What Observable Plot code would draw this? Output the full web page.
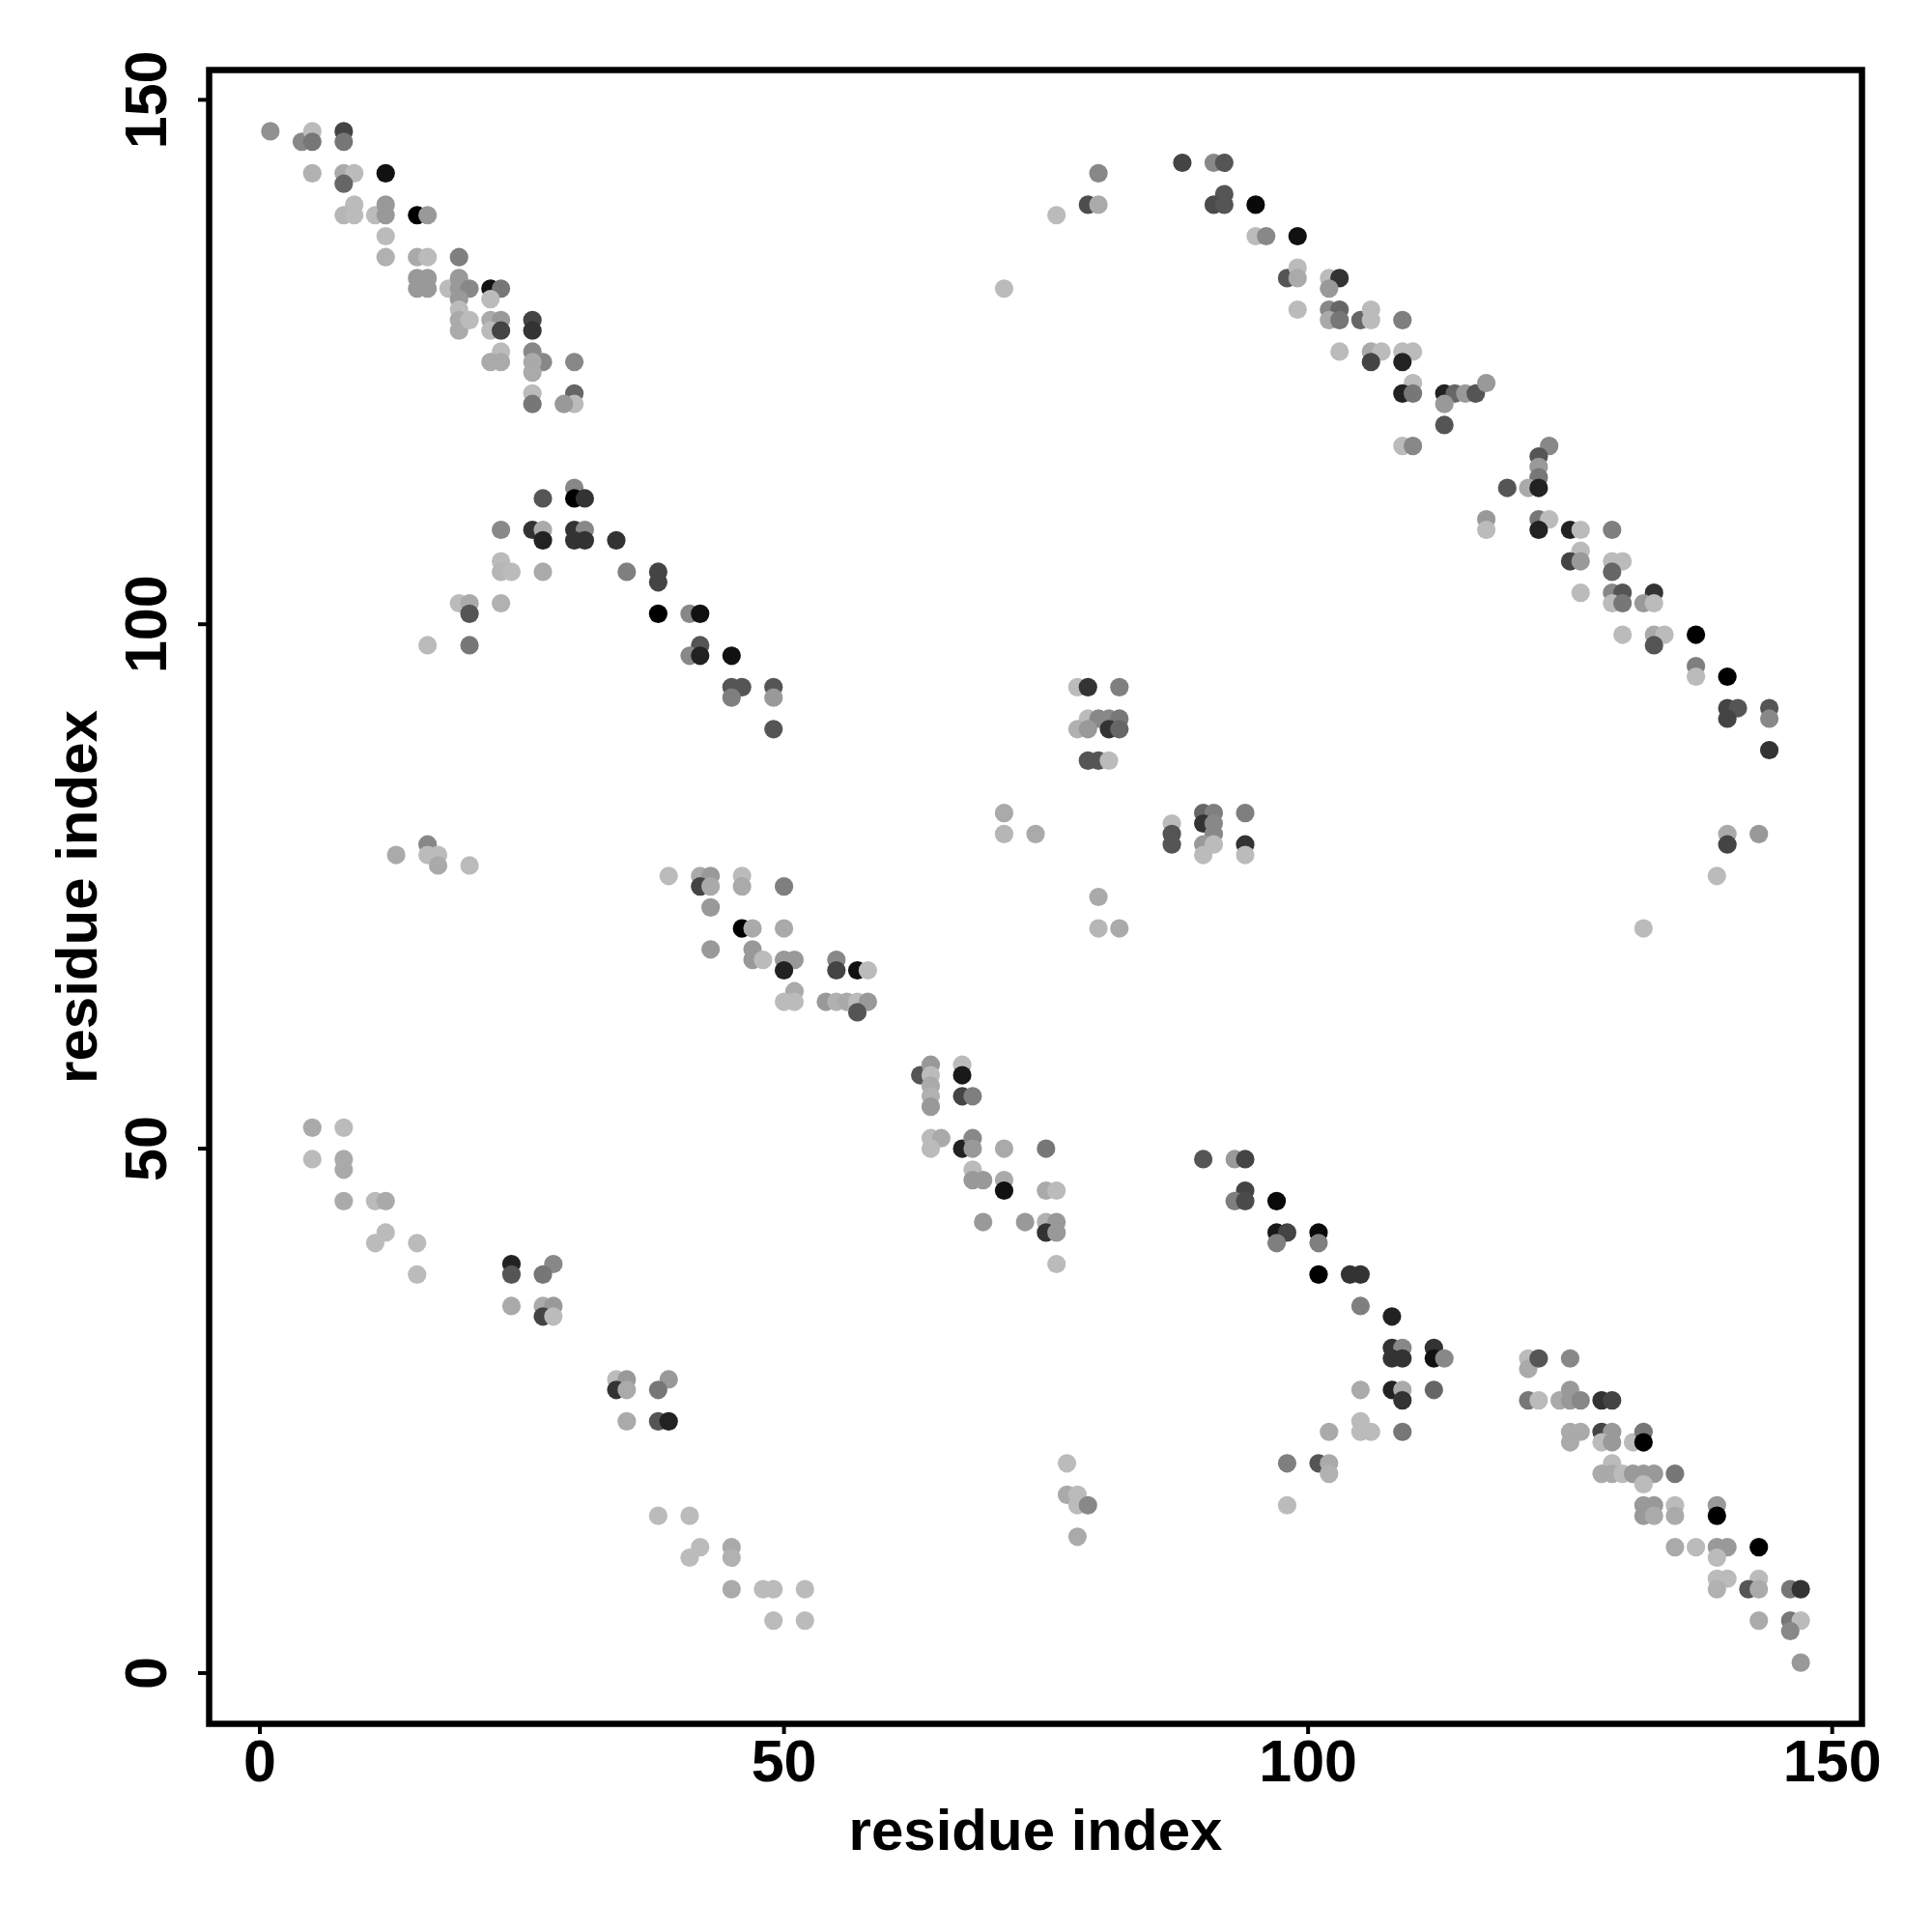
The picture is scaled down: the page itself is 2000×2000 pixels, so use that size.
<!DOCTYPE html>
<html>
<head>
<meta charset="utf-8">
<script src="https://cdn.jsdelivr.net/npm/d3@7"></script>
<script src="https://cdn.jsdelivr.net/npm/@observablehq/plot@0.6"></script>
<style>
  html, body { margin: 0; padding: 0; background: #ffffff; }
</style>
</head>
<body>
<div id="chart"></div>
<script>
// Tick values
const xTicks = [0, 50, 100, 150];
const yTicks = [0, 50, 100, 150];
const axisTitle = "residue index";

// Contacts: [residue i, residue j, grey level (0 = black ... 11 = light grey)]
const topLeftBand = [
  [1,147,8.5],[4,146,8],[5,147,11],[5,146,7],[8,147,4],[8,146,7],[5,143,10.4],[8,143,10],[9,143,11],
  [8,142,6],[12,143,1],[9,140,11],[8,139,10.7],[9,139,11],[11,139,11],[12,140,9],[12,139,9],[15,139,0],
  [16,139,9],[12,137,11],[12,135,10.4],[15,135,10],[16,135,11],[19,135,7.5],[15,133,9],[16,133,9],
  [15,132,9],[16,132,9],[18,132,11],[19,133,9],[19,132,9],[20,132,8],[19,131,9],[19,130,11],[19,129,10],
  [19,128,10],[20,129,11],[22,132,1],[23,132,7],[22,131,11],[22,129,10],[23,129,9],[22,128,11],[23,128,4],
  [26,129,4],[26,128,3],[23,126,11],[22,125,10],[23,125,10],[26,126,8],[27,125,8],[26,125,10],[26,124,10],
  [30,125,8],[26,122,11],[26,121,7],[30,122,6],[30,121,11],[29,121,9]
];
const midLeftBand = [
  [30,113,8],[27,112,5],[30,112,0],[31,112,3],[23,109,8],[26,109,3],[27,109,10],[27,108,2],[30,109,3],
  [31,109,8],[30,108,3],[31,108,3],[23,106,11],[23,105,10.7],[24,105,11],[27,105,10],[19,102,11],
  [20,102,10],[20,101,5],[23,102,10.4],[16,98,11],[20,98,7],[13,78,10],[16,79,8],[16,78,11],[17,78,11],
  [17,77,10],[20,77,11],
  [34,108,3],[35,105,7.5],[38,105,4],[38,104,4],[38,101,0],[41,101,8],[42,101,1],[42,98,5],[41,97,8],
  [42,97,2],[45,97,1],[45,94,5],[46,94,5],[45,93,7.5],[49,94,5],[49,93,9],[49,90,5],[71,82,10],[71,80,10.7],
  [74,80,10],[39,76,11],[42,76,10],[43,76,9],[42,75,4],[43,75,10],[46,76,11],[46,75,10],[50,75,7.5],
  [43,73,9],[46,71,0],[47,71,10],[50,71,10]
];
const topRightBand = [
  [71,132,11],[80,143,8],[79,140,4.5],[80,140,10],[76,139,11],[88,144,4],[91,144,8],[92,144,5],[92,141,5],
  [91,140,4.4],[92,140,5],[95,140,0.5],[95,137,11],[96,137,8],[99,137,1],[98,133,5],[99,134,11],[99,133,10],
  [102,133,11],[103,133,3],[102,132,9],[99,130,11],[102,130,8],[103,130,6],[102,129,10],[103,129,7],
  [105,129,6],[106,130,11],[106,129,11],[109,129,7.5],[103,126,11],[106,126,10],[107,126,11],[106,125,4],
  [109,126,11],[110,126,11],[109,125,2],[110,123,11],[109,122,2],[110,122,7],[113,122,2],[114,122,6],
  [113,121,9],[113,119,5],[109,117,11],[110,117,8],
  [115,122,9],[116,122,5],[117,123,9],[123,117,8],[122,116,5],[122,115,9],[122,114,7],[119,113,5],
  [121,113,10],[122,113,2],[117,110,9],[122,110,7],[123,110,11],[117,109,11],[122,109,2],[125,109,2],
  [126,109,11],[129,109,7.5],[126,107,11],[125,106,4],[126,106,9],[129,106,11],[130,106,11],[129,105,6],
  [126,103,11],[129,103,8],[130,103,5],[133,103,3],[129,102,11],[130,102,7],[132,102,9],[133,102,11],
  [130,99,11],[133,99,10],[134,99,11],[137,99,0],[133,98,5],[137,96,7.5],[137,95,11],[140,95,0],
  [140,92,4],[141,92,5],[144,92,5],[140,91,4],[144,91,8],[144,88,3],[140,80,10],[143,80,9],[140,79,4],
  [139,76,11],[132,71,11]
];
const centreBand = [
  [78,94,11],[79,94,3],[82,94,7.5],[79,91,11],[80,91,8],[81,91,8],[82,91,7],[78,90,10.4],[79,90,9],
  [81,90,3],[82,90,6],[79,87,5],[80,87,5],[81,87,11],[87,81,11],[87,80,5],[87,79,5],[90,82,6],[91,82,7.5],
  [90,81,3],[91,81,8],[91,80,8],[90,79,9],[91,79,11],[90,78,11],[94,82,7.5],[94,79,3],[94,78,11],
  [80,74,10],[80,71,10.7],[82,71,10],
  [43,69,9],[47,69,9],[47,68,9],[48,68,11],[50,68,9],[51,68,9],[50,67,2],[55,68,8],[55,67,4],[57,67,1],
  [58,67,11],[51,65,10],[50,64,11],[51,64,11],[54,64,9],[55,64,10.4],[56,64,10],[57,64,11],[58,64,9],
  [57,63,5],[63,57,5],[64,58,9],[64,57,11],[64,56,10],[64,55,10.4],[64,54,9],[67,58,11],[67,57,1.5],
  [67,55,4],[68,55,7.5],[64,51,11],[65,51,10],[64,50,11],[67,50,2],[68,51,8],[68,50,9],[71,50,10],
  [68,48,11],[68,47,9],[69,47,9],[71,47,10],[71,46,1],[69,43,9],[73,43,9],
  [75,50,7],[75,46,10],[76,46,11],[75,43,10.4],[76,43,9],[75,42,3],[76,42,9],[76,39,11]
];
const lowRightBand = [
  [90,49,5],[93,49,9],[94,49,4],[94,46,4],[93,45,7.5],[94,45,4.4],[97,45,0.5],[97,42,1.5],[98,42,4],
  [97,41,7.5],[101,42,0.5],[101,41,7.5],[101,38,0],[104,38,3],[105,38,3],[105,35,7.5],[108,34,2],
  [108,31,3],[109,31,8],[108,30,3],[109,30,3],[112,31,3],[112,30,1],[113,30,8],[112,27,6],
  [105,27,10],[108,27,2],[109,27,10],[109,26,3],[102,23,10],[105,24,11],[105,23,11],[106,23,11],[109,23,7],
  [98,20,7.5],[101,20,5],[102,20,10],[102,19,10.4],[98,16,11],
  [121,30,11],[121,29,10],[122,30,5],[125,30,8],[121,26,7],[122,26,11],[124,26,10],[125,27,9],[125,26,9],
  [126,26,8],[128,26,3],[129,26,4],[125,23,10],[125,22,10],[126,23,10],[128,23,4],[129,23,9],[128,22,11],
  [129,22,9],[131,22,11],[132,23,7],[132,22,0],[129,20,11],[128,19,10],[129,19,10],[130,19,11],[131,19,9],
  [132,19,9],[133,19,9],[135,19,7],[132,18,11],[132,16,9],[132,15,9],[133,16,9],[133,15,10],[135,16,11],
  [135,15,10],[139,16,9],[139,15,0],[135,12,10],[137,12,11],[139,12,9],[140,12,9],[143,12,0],[139,11,11],
  [139,9,11],[140,9,11],[143,9,11],[139,8,10.4],[142,8,5],[143,8,10],[146,8,7],[147,8,3],[143,5,10],
  [146,5,7],[147,5,11],[146,4,8],[147,1,9]
];
const lowLeftBand = [
  [5,52,10],[8,52,11],[5,49,11],[8,49,10],[8,48,10],[8,45,10],[11,45,11],[12,45,10],[12,42,11],[11,41,11],
  [15,41,11],[15,38,11],[24,39,2],[24,38,5],[28,39,8],[27,38,7],[24,35,10],[27,35,10],[28,35,9],[27,34,4],
  [28,34,11],
  [34,28,11],[35,28,9],[34,27,3],[35,27,10],[39,28,9],[38,27,7],[35,24,10],[38,24,5],[39,24,2],
  [38,15,11],[41,15,11],[42,12,11],[41,11,11],[45,12,10],[45,11,10.4],[45,8,10],[48,8,11],[49,8,11],
  [52,8,11],[49,5,11],[52,5,11],
  [77,20,11],[77,17,10],[78,17,11],[78,16,11],[79,16,8],[78,13,10]
];

const contacts = [topLeftBand, midLeftBand, topRightBand, centreBand, lowRightBand, lowLeftBand]
  .flat()
  .map(([i, j, level]) => ({i, j, level}));

const font = "'Liberation Sans', Arial, Helvetica, sans-serif";

const chart = Plot.plot({
  width: 2000,
  height: 2000,
  marginLeft: 216,
  marginRight: 73,
  marginTop: 72,
  marginBottom: 216,
  style: {fontFamily: font, fontWeight: "bold", background: "#ffffff", color: "#000000"},
  x: {domain: [-4.84, 152.84], axis: null},
  y: {domain: [-4.84, 152.84], axis: null},
  color: {type: "linear", domain: [0, 11], range: ["#000000", "#bbbbbb"], interpolate: "rgb"},
  marks: [
    Plot.dot(contacts, {x: "i", y: "j", fill: "level", r: 9.6}),
    Plot.frame({stroke: "#000000", strokeWidth: 6.5}),
    Plot.axisX(xTicks, {anchor: "bottom", tickSize: 11, tickPadding: 5, strokeWidth: 4, fontSize: 61, fontWeight: "bold", label: null}),
    Plot.axisY(yTicks, {anchor: "left", tickSize: 11, strokeWidth: 4, tickFormat: () => "", label: null}),
    Plot.text(yTicks, {y: d => d, text: d => String(d), frameAnchor: "left", dx: -64, rotate: -90,
      fontSize: 61, fontWeight: "bold", textAnchor: "middle", lineAnchor: "middle"}),
    Plot.text([axisTitle], {text: d => d, frameAnchor: "bottom", dy: 111, fontSize: 60, fontWeight: "bold",
      textAnchor: "middle", lineAnchor: "middle"}),
    Plot.text([axisTitle], {text: d => d, frameAnchor: "left", dx: -136, rotate: -90, fontSize: 60, fontWeight: "bold",
      textAnchor: "middle", lineAnchor: "middle"})
  ]
});

document.getElementById("chart").appendChild(chart);
</script>
</body>
</html>
